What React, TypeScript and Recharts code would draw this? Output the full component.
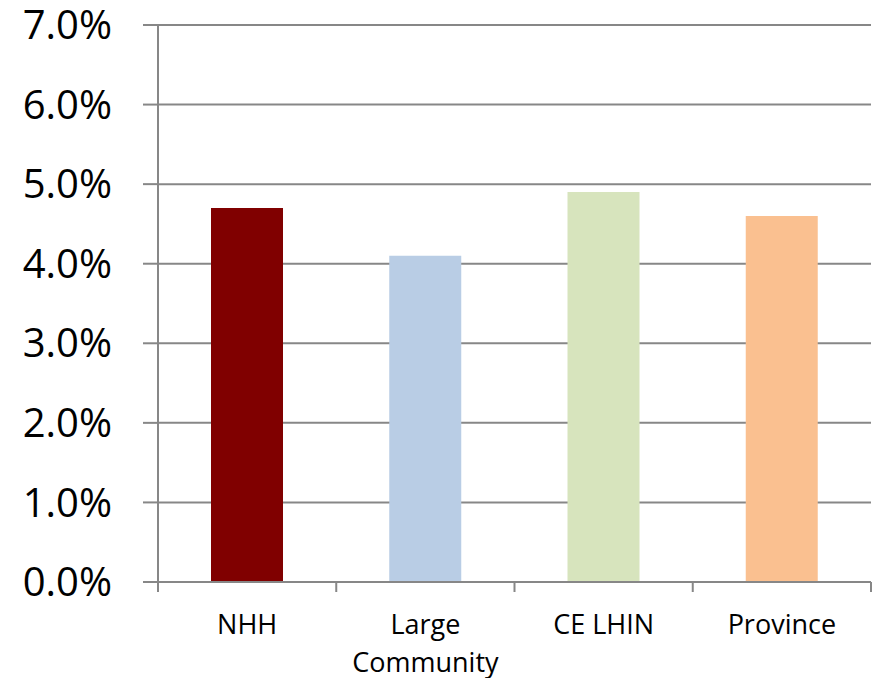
import * as React from "react";
import { BarChart, Bar, XAxis, YAxis, CartesianGrid, Cell } from "recharts";

const categories = ["NHH", "Large Community", "CE LHIN", "Province"];
const rates = [0.047, 0.041, 0.049, 0.046];
const barColors = ["#800000", "#B9CDE5", "#D7E4BD", "#FAC090"];
const yTicks = [0, 0.01, 0.02, 0.03, 0.04, 0.05, 0.06, 0.07];

const data = categories.map((name, i) => ({ name, value: rates[i] }));

const W = 875;
const H = 678;
const LEFT = 158;
const RIGHT = 4;
const GRID = "#878787";
const FONT = "'Open Sans', sans-serif";
const BAND = (W - LEFT - RIGHT) / categories.length;

// wrap long labels onto two lines, like the original
function wrapLabel(s: string): string[] {
  return s.length > 10 && s.includes(" ") ? s.split(" ") : [s];
}

function CategoryTick(props: any) {
  const { x, y, payload, index } = props;
  const left = x - BAND / 2;
  const lines = wrapLabel(String(payload.value));
  return (
    <g>
      <line x1={left} x2={left} y1={y} y2={y + 10} stroke={GRID} strokeWidth={2} />
      {index === categories.length - 1 && (
        <line x1={left + BAND} x2={left + BAND} y1={y} y2={y + 10} stroke={GRID} strokeWidth={2} />
      )}
      <text textAnchor="middle" fontSize={27} fontFamily={FONT} fill="#000">
        {lines.map((l, i) => (
          <tspan key={i} x={x} y={y + 52 + i * 38}>
            {l}
          </tspan>
        ))}
      </text>
    </g>
  );
}

export default function App() {
  return (
    <div style={{ position: "absolute", left: 0, top: 0, width: W, height: H, background: "#fff" }}>
      <BarChart width={W} height={H} data={data} margin={{ top: 25, right: RIGHT, bottom: 0, left: 0 }}>
        <CartesianGrid vertical={false} stroke={GRID} strokeWidth={2} />
        <XAxis
          dataKey="name"
          height={96}
          interval={0}
          tickLine={false}
          tickSize={0}
          tickMargin={0}
          axisLine={{ stroke: GRID, strokeWidth: 2 }}
          tick={<CategoryTick />}
        />
        <YAxis
          width={LEFT}
          domain={[0, 0.07]}
          ticks={yTicks}
          interval={0}
          tickSize={15}
          tickMargin={31}
          tickLine={{ stroke: GRID, strokeWidth: 2 }}
          axisLine={{ stroke: GRID, strokeWidth: 2 }}
          tickFormatter={(v: number) => (v * 100).toFixed(1) + "%"}
          tick={{ fill: "#000", fontSize: 40, fontFamily: FONT }}
        />
        <Bar dataKey="value" barSize={72} isAnimationActive={false}>
          {data.map((d, i) => (
            <Cell key={d.name} fill={barColors[i]} />
          ))}
        </Bar>
      </BarChart>
    </div>
  );
}
